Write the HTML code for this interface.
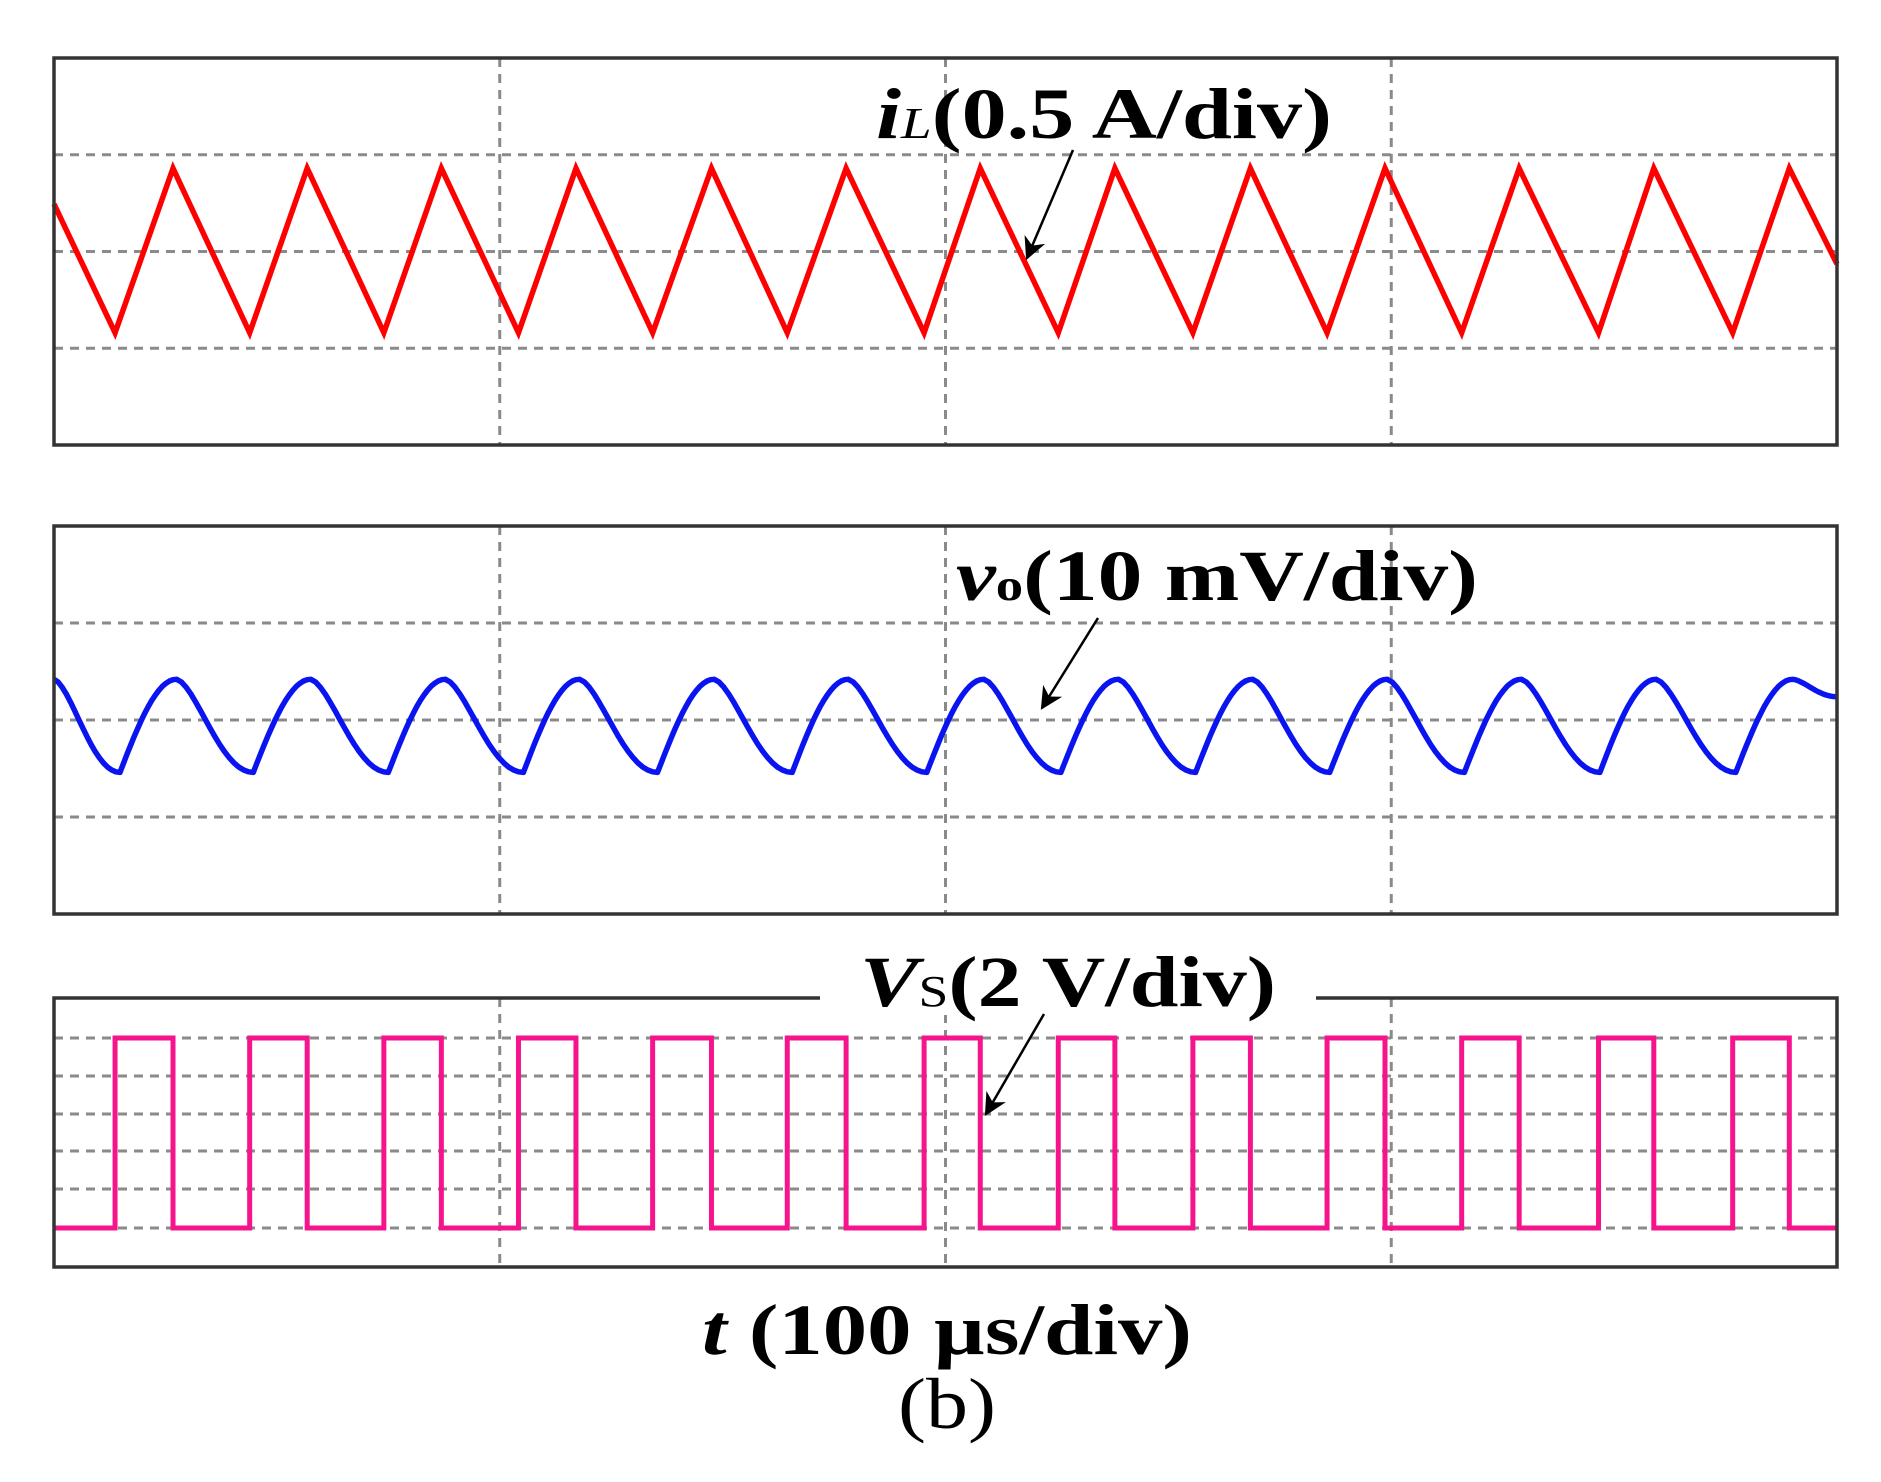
<!DOCTYPE html>
<html><head><meta charset="utf-8"><style>
html,body{margin:0;padding:0;background:#fff;}
svg{display:block;}
text{font-family:"Liberation Serif",serif;fill:#000;}
</style></head><body>
<svg id="chart" width="1881" height="1482" viewBox="0 0 1881 1482">
<defs><marker id="ah" viewBox="0 0 10 10" refX="9" refY="5" markerWidth="9" markerHeight="9" orient="auto"><path d="M0,0 L10,5 L0,10 L3,5 Z" fill="#000"/></marker></defs>
<g id="grids"></g>
<g id="traces"></g>
<g id="frames"></g>
<rect x="820" y="985" width="496" height="30" fill="#fff"/>
<text x="876" y="138" font-size="72" font-weight="bold" textLength="456" lengthAdjust="spacingAndGlyphs"><tspan font-style="italic">i</tspan><tspan font-style="italic" font-weight="normal" font-size="44">L</tspan>(0.5 A/div)</text>
<line x1="1073" y1="150" x2="1027" y2="258" stroke="#000" stroke-width="2.5" marker-end="url(#ah)"/>
<text x="956" y="600" font-size="72" font-weight="bold" textLength="522" lengthAdjust="spacingAndGlyphs"><tspan font-style="italic">v</tspan><tspan font-size="44">o</tspan>(10 mV/div)</text>
<line x1="1098" y1="618" x2="1042" y2="708" stroke="#000" stroke-width="2.5" marker-end="url(#ah)"/>
<text x="860" y="1006" font-size="72" font-weight="bold" textLength="416" lengthAdjust="spacingAndGlyphs"><tspan font-style="italic">V</tspan><tspan font-weight="normal" font-size="44">S</tspan>(2 V/div)</text>
<line x1="1044" y1="1014" x2="986" y2="1114" stroke="#000" stroke-width="2.5" marker-end="url(#ah)"/>
<text x="702" y="1354" font-size="72" font-weight="bold" textLength="490" lengthAdjust="spacingAndGlyphs"><tspan font-style="italic">t</tspan> (100 µs/div)</text>
<text x="898" y="1428" font-size="72" textLength="98" lengthAdjust="spacingAndGlyphs">(b)</text>
</svg>
<script>
// time in µs (0..400, 100 µs/div)
const ilPeakT=[26.7,56.8,86.9,117.1,147.5,177.7,207.8,238.0,268.4,298.6,328.7,358.9,389.3];
const ilTroughT=[13.7,43.9,74.0,104.2,134.3,164.5,195.2,225.3,255.5,285.6,315.8,346.5,376.6];
const ilPeakV=0.43, ilTroughV=-0.42, ilStartV=0.245, ilEndV=-0.065; // A
const voPeakT=[0,27.5,57.6,87.8,117.9,148.1,178.2,208.6,238.8,268.9,299.1,329.2,359.4,390.1];
const voTroughT=[14.8,44.7,75.0,105.3,135.4,165.6,195.8,225.9,256.1,286.2,316.4,346.8,377.3];
const voPeakV=4.2, voTroughV=-5.4, voEndV=2.4; // mV
const vsRiseT=[13.7,43.9,74.0,104.2,134.3,164.5,195.2,225.3,255.5,285.6,315.8,346.5,376.6];
const vsFallT=[26.7,56.8,86.9,117.1,147.5,177.7,207.8,238.0,268.4,298.6,328.7,358.9,389.3];
const vsHigh=10, vsLow=0; // V

const NS='http://www.w3.org/2000/svg';
const X0=54,X1=1837;
const x=t=>X0+(X1-X0)*t/400;
const panels=[{top:58,bot:445,rows:4},{top:526,bot:914,rows:4},{top:998,bot:1267,rows:7}];
const yIL=v=>251.5-(v/0.5)*96.75;
const yVO=v=>720-(v/10)*97;
const yVS=v=>1228-(v/2)*38;
const grids=document.getElementById('grids'),frames=document.getElementById('frames'),traces=document.getElementById('traces');
function mk(tag,attrs,parent){const e=document.createElementNS(NS,tag);for(const k in attrs)e.setAttribute(k,attrs[k]);parent.appendChild(e);return e;}
panels.forEach((p,i)=>{
  const gy = i===2 ? [1038,1076,1114,1151,1189,1228] : [1,2,3].map(k=>p.top+(p.bot-p.top)*k/4);
  gy.forEach(y=>{const l=mk('line',{x1:X0,x2:X1,y1:y,y2:y,stroke:'#8a8a8a','stroke-width':3,'stroke-dasharray':'9 7'},grids);
    
    });
  [1,2,3].forEach(k=>{const xx=X0+(X1-X0)*k/4;const l=mk('line',{x1:xx,x2:xx,y1:p.top,y2:p.bot,stroke:'#8a8a8a','stroke-width':3,'stroke-dasharray':'9 7'},grids);
    
    });
  let r;
  if(i===2){r=mk('path',{d:`M820,${p.top} H${X0} V${p.bot} H${X1} V${p.top} H1316`,fill:'none',stroke:'#333','stroke-width':3.5},frames);}
  else r=mk('rect',{x:X0,y:p.top,width:X1-X0,height:p.bot-p.top,fill:'none',stroke:'#333','stroke-width':3.5},frames);
  
  
});
// iL triangle
let pts=[[0,ilStartV]];
ilTroughT.forEach((t,k)=>{pts.push([t,ilTroughV]);pts.push([ilPeakT[k],ilPeakV]);});
pts.push([400,ilEndV]);
const il=mk('polyline',{points:pts.map(p=>x(p[0])+','+yIL(p[1])).join(' '),fill:'none',stroke:'#ff0000','stroke-width':5.5,'stroke-linejoin':'miter'},traces);


// vo smooth (rounded peaks, falling segment eased)
let ext=[];
voPeakT.forEach((t,k)=>{ext.push([t,voPeakV]);if(k<voTroughT.length)ext.push([voTroughT[k],voTroughV]);});
ext.push([400,voEndV]);
let d='M'+x(ext[0][0])+','+yVO(ext[0][1]);
for(let k=0;k<ext.length-1;k++){
  const [t0,v0]=ext[k],[t1,v1]=ext[k+1];
  const falling=v1<v0;
  for(let s=1;s<=16;s++){const f=s/16;const t=t0+(t1-t0)*f;
    const e=falling? Math.sin(Math.PI/2*f)**0.6*0+ (1-Math.cos(Math.PI*Math.pow(f,0.8)))/2 : Math.sin(Math.PI/2*f);
    const v=v0+(v1-v0)*e;d+=' L'+x(t).toFixed(1)+','+yVO(v).toFixed(1);}
}
const vo=mk('path',{d:d,fill:'none',stroke:'#0a14f0','stroke-width':5.5,'stroke-linejoin':'round'},traces);


// Vs square
let sd='M'+x(0)+','+yVS(vsLow);
vsRiseT.forEach((t,k)=>{sd+=' H'+x(t)+' V'+yVS(vsHigh)+' H'+x(vsFallT[k])+' V'+yVS(vsLow);});
sd+=' H'+x(400);
const vs=mk('path',{d:sd,fill:'none',stroke:'#f5148c','stroke-width':5},traces);


</script>
</body></html>
